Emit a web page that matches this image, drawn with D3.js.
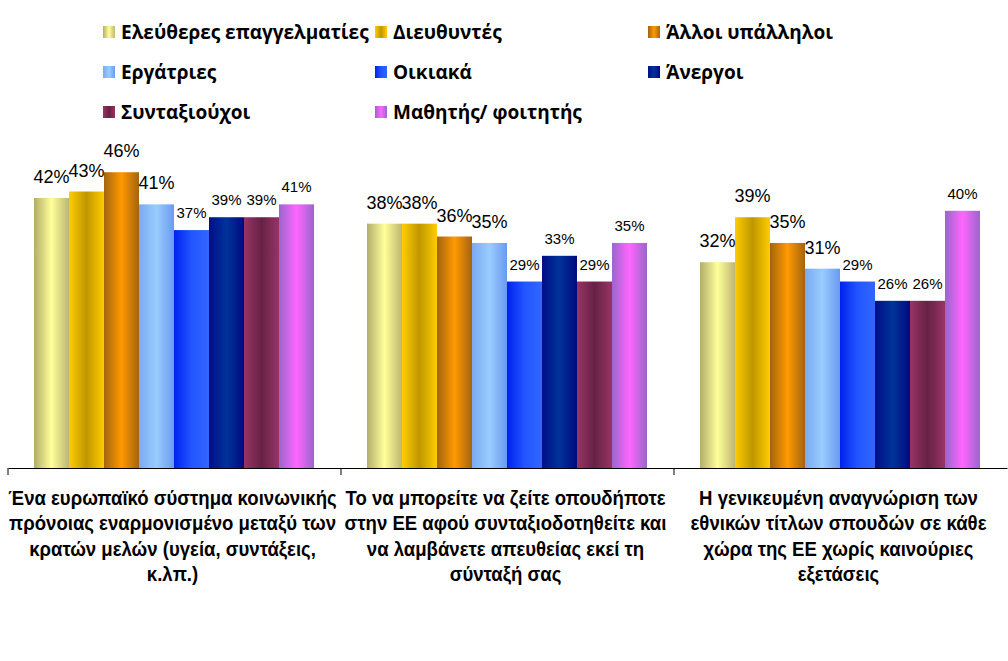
<!DOCTYPE html>
<html>
<head>
<meta charset="utf-8">
<script src="https://cdn.jsdelivr.net/npm/d3@7"></script>
<style>
  body { margin: 0; background: #fff; }
  svg { display: block; }
</style>
</head>
<body>
<script>
var width = 1008, height = 661;

// categories (x groups), split in lines as in the picture
var categories = ["g1", "g2", "g3"];
var categoryLines = [
  ["Ένα ευρωπαϊκό σύστημα κοινωνικής", "πρόνοιας εναρμονισμένο μεταξύ των", "κρατών μελών (υγεία, συντάξεις,", "κ.λπ.)"],
  ["Το να μπορείτε να ζείτε οπουδήποτε", "στην ΕΕ αφού συνταξιοδοτηθείτε και", "να λαμβάνετε απευθείας εκεί τη", "σύνταξή σας"],
  ["Η γενικευμένη αναγνώριση των", "εθνικών τίτλων σπουδών σε κάθε", "χώρα της ΕΕ χωρίς καινούριες", "εξετάσεις"]
];

var seriesNames = ["Ελεύθερες επαγγελματίες", "Διευθυντές", "Άλλοι υπάλληλοι", "Εργάτριες",
  "Οικιακά", "Άνεργοι", "Συνταξιούχοι", "Μαθητής/ φοιτητής"];

// values per series, one per category
var eleftheres = [42, 38, 32];
var dieftyntes = [43, 38, 39];
var alloi = [46, 36, 35];
var ergatries = [41, 35, 31];
var oikiaka = [37, 29, 29];
var anergoi = [39, 33, 26];
var syntaxiouxoi = [39, 29, 26];
var mathites = [41, 35, 40];
var seriesValues = [eleftheres, dieftyntes, alloi, ergatries, oikiaka, anergoi, syntaxiouxoi, mathites];

// gradient stops for each series: edge, centre, edge
var seriesGrad = [
  ["#b3ad6b", "#ffff99", "#bdb671"],
  ["#ffcc00", "#bf9700", "#ffcc00"],
  ["#a3640f", "#ff9900", "#a3640f"],
  ["#7aaaf0", "#99ccff", "#6a9af0"],
  ["#0022ee", "#2255ff", "#3366ff"],
  ["#000e88", "#003399", "#000a80"],
  ["#993366", "#662244", "#993366"],
  ["#9966cc", "#ff66ff", "#9966cc"]
];

var svg = d3.select("body").append("svg")
  .attr("width", width)
  .attr("height", height);

var defs = svg.append("defs");
seriesGrad.forEach(function(g, i) {
  var lg = defs.append("linearGradient")
    .attr("id", "grad" + i)
    .attr("x1", "0%").attr("x2", "100%")
    .attr("y1", "0%").attr("y2", "0%");
  lg.append("stop").attr("offset", "0%").attr("stop-color", g[0]);
  lg.append("stop").attr("offset", "50%").attr("stop-color", g[1]);
  lg.append("stop").attr("offset", "100%").attr("stop-color", g[2]);
});

var plotLeft = 8, plotRight = 1007, baseY = 468;

var x0 = d3.scaleBand()
  .domain(categories)
  .range([plotLeft, plotRight])
  .paddingInner(0)
  .paddingOuter(0);

var x1 = d3.scaleBand()
  .domain(d3.range(seriesNames.length))
  .range([26, x0.bandwidth() - 27]);

var y = d3.scaleLinear()
  .domain([0, 50])
  .range([baseY, baseY - 321.5]);

// bars
var groups = svg.selectAll("g.group")
  .data(categories)
  .enter().append("g")
  .attr("class", "group")
  .attr("transform", function(d) { return "translate(" + x0(d) + ",0)"; });

groups.each(function(cat, ci) {
  var g = d3.select(this);
  var rows = seriesValues.map(function(vals, si) { return {s: si, v: vals[ci]}; });

  g.selectAll("rect")
    .data(rows)
    .enter().append("rect")
    .attr("x", function(d) { return x1(d.s); })
    .attr("width", x1.bandwidth())
    .attr("y", function(d) { return y(d.v); })
    .attr("height", function(d) { return baseY - y(d.v); })
    .attr("fill", function(d) { return "url(#grad" + d.s + ")"; });

  g.selectAll("text.lbl")
    .data(rows)
    .enter().append("text")
    .attr("class", "lbl")
    .attr("x", function(d) { return x1(d.s) + x1.bandwidth() / 2; })
    .attr("y", function(d) { return y(d.v) - (d.s < 4 ? 15 : 12); })
    .attr("text-anchor", "middle")
    .style("font-family", "'Liberation Sans', Arial, sans-serif")
    .style("font-size", function(d) { return d.s < 4 ? "18px" : "15px"; })
    .attr("fill", "#000")
    .text(function(d) { return d.v + "%"; });
});

// x axis
var xAxis = d3.axisBottom(x0)
  .tickSize(7)
  .tickFormat("")
  .tickSizeOuter(0);

var axisG = svg.append("g")
  .attr("transform", "translate(0," + baseY + ")")
  .call(xAxis);
axisG.select(".domain").attr("stroke", "#000").attr("stroke-width", 1.2);
// ticks sit on band boundaries, not centres
axisG.selectAll(".tick").remove();
var bounds = categories.map(function(c) { return x0(c); });
axisG.selectAll("line.bnd")
  .data(bounds)
  .enter().append("line")
  .attr("class", "bnd")
  .attr("x1", function(d) { return d; })
  .attr("x2", function(d) { return d; })
  .attr("y1", 0).attr("y2", 7)
  .attr("stroke", "#000");

// category labels
groups.each(function(cat, ci) {
  var t = d3.select(this).append("text")
    .attr("text-anchor", "middle")
    .attr("transform", "translate(" + (x0.bandwidth() / 2 - 2) + ",505) scale(0.885,1)")
    .style("font-family", "'Liberation Sans', Arial, sans-serif")
    .style("font-weight", "bold")
    .style("font-size", "21px")
    .attr("fill", "#000");
  t.selectAll("tspan")
    .data(categoryLines[ci])
    .enter().append("tspan")
    .attr("x", 0)
    .attr("dy", function(d, i) { return i === 0 ? 0 : 25.5; })
    .text(function(d) { return d; });
});

// legend
var legCols = [103, 375, 648], legRows = [32, 72, 112];
var legend = svg.selectAll("g.leg")
  .data(seriesNames)
  .enter().append("g")
  .attr("class", "leg")
  .attr("transform", function(d, i) {
    return "translate(" + legCols[i % 3] + "," + legRows[Math.floor(i / 3)] + ")";
  });

legend.append("rect")
  .attr("x", 0).attr("y", -6)
  .attr("width", 12).attr("height", 12)
  .attr("fill", function(d, i) { return "url(#grad" + i + ")"; });

legend.append("text")
  .attr("x", 18)
  .attr("y", 7)
  .style("font-family", "'Open Sans', 'Liberation Sans', sans-serif")
  .style("font-weight", "bold")
  .style("font-size", "19px")
  .attr("fill", "#000")
  .text(function(d) { return d; });
</script>
</body>
</html>
